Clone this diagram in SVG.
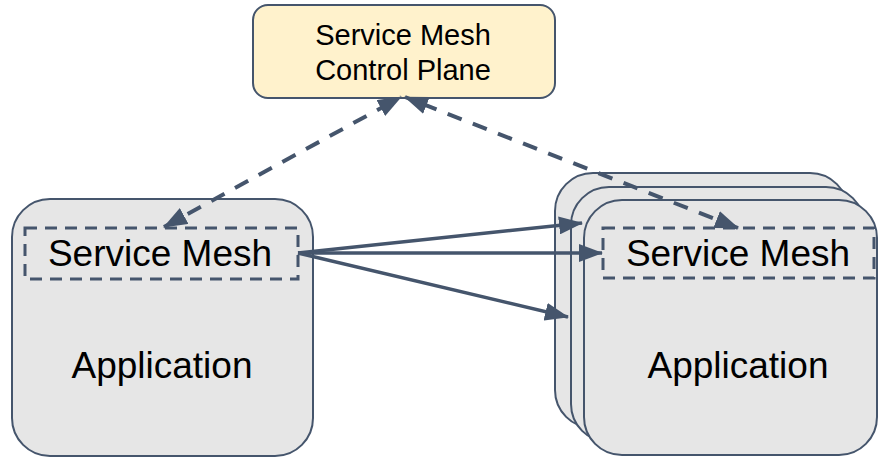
<svg xmlns="http://www.w3.org/2000/svg" width="878" height="457" viewBox="0 0 878 457">
  <style>
    .app { fill: #e6e6e6; stroke: #45556c; stroke-width: 2; }
    .ctrl { fill: #fff2cc; stroke: #45556c; stroke-width: 2; }
    .mesh { fill: none; stroke: #45556c; stroke-width: 3; stroke-dasharray: 12 8; }
    .lbl { font-family: "Liberation Sans", Arial, sans-serif; fill: #000; text-anchor: middle; }
    .big { font-size: 37px; }
    .small { font-size: 29px; }
    .link { fill: none; stroke: #45556c; stroke-width: 3.5; }
    .dash { stroke-width: 4; stroke-dasharray: 15 12; }
  </style>
  <defs>
    <marker id="head" viewBox="0 0 24 18" refX="23" refY="9" markerWidth="24" markerHeight="18" orient="auto-start-reverse" markerUnits="userSpaceOnUse">
      <path d="M0,0 L24,9 L0,18 z" fill="#45556c"/>
    </marker>
  </defs>

  <!-- control plane -->
  <g id="control-plane">
    <rect class="ctrl" x="253" y="5" width="302" height="93" rx="15"/>
    <text class="lbl small" x="403" y="45">Service Mesh</text>
    <text class="lbl small" x="403" y="80">Control Plane</text>
  </g>

  <!-- local application with its sidecar -->
  <g id="app-left">
    <rect class="app" x="12" y="199" width="301" height="257" rx="38"/>
    <rect class="mesh" x="25" y="228" width="273" height="51"/>
    <text class="lbl big" x="160" y="266">Service Mesh</text>
    <text class="lbl big" x="162" y="378">Application</text>
  </g>

  <!-- stacked remote application instances -->
  <g id="app-right-3">
    <rect class="app" x="555" y="173" width="293" height="255" rx="38"/>
  </g>
  <g id="app-right-2">
    <rect class="app" x="571" y="187" width="293" height="255" rx="38"/>
  </g>
  <g id="app-right-1">
    <rect class="app" x="584" y="200" width="293" height="255" rx="38"/>
    <rect class="mesh" x="603" y="228" width="271" height="50"/>
    <text class="lbl big" x="738" y="266">Service Mesh</text>
    <text class="lbl big" x="738" y="378">Application</text>
  </g>

  <!-- connectors -->
  <g id="connectors">
    <line class="link dash" x1="164" y1="227" x2="401" y2="97" marker-start="url(#head)" marker-end="url(#head)"/>
    <line class="link dash" x1="738" y1="228" x2="405" y2="97" marker-start="url(#head)" marker-end="url(#head)"/>
    <line class="link" x1="298" y1="253" x2="582" y2="223" marker-end="url(#head)"/>
    <line class="link" x1="298" y1="253" x2="602" y2="253" marker-end="url(#head)"/>
    <line class="link" x1="298" y1="253" x2="568" y2="317" marker-end="url(#head)"/>
  </g>
</svg>
